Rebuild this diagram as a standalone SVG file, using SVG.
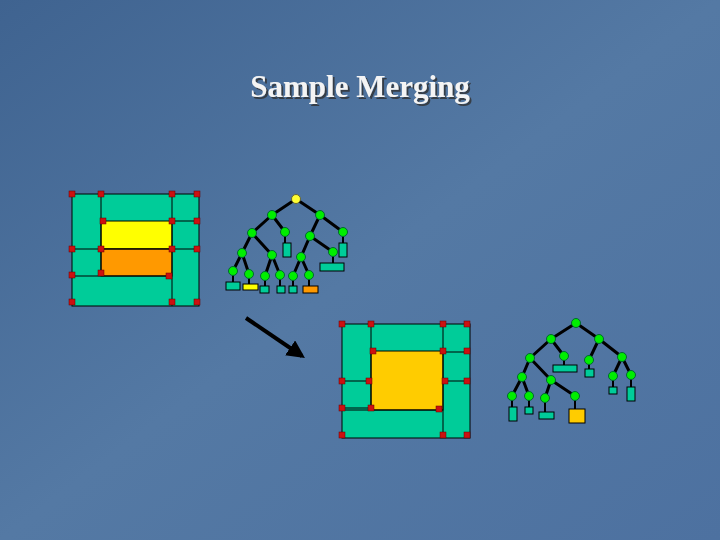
<svg xmlns="http://www.w3.org/2000/svg" width="720" height="540" viewBox="0 0 720 540">
<defs>
<linearGradient id="bg" x1="0" y1="0" x2="1" y2="1">
<stop offset="0" stop-color="#3f6390"/><stop offset="0.5" stop-color="#5479a4"/><stop offset="1" stop-color="#4d71a0"/>
</linearGradient>
<filter id="sh" x="-10%" y="-30%" width="120%" height="160%"><feDropShadow dx="2" dy="2" stdDeviation="0.5" flood-color="#333" flood-opacity="0.8"/></filter>
<marker id="ah" viewBox="0 0 10 10" refX="8" refY="5" markerWidth="4.5" markerHeight="4.5" orient="auto"><path d="M0,0 L10,5 L0,10 z" fill="#000"/></marker>
</defs>
<style>
.c{fill:#00cc99;stroke:#000;stroke-width:1}
.r{fill:#cc1111;stroke:#600;stroke-width:0.5}
.n{fill:#00ee00;stroke:#063;stroke-width:1}
.e{stroke:#000;stroke-width:3;fill:none}
.l{fill:#00cc99;stroke:#000;stroke-width:1}
.t{font-family:"Liberation Serif",serif;font-weight:bold;font-size:31px}
</style>
<rect width="720" height="540" fill="url(#bg)"/>
<text class="t" x="360" y="97" text-anchor="middle" fill="#f4f4f4" filter="url(#sh)">Sample Merging</text>
<g id="box1">
<rect class="c" x="72" y="194" width="127" height="112"/>
<rect x="101" y="221" width="71" height="28" fill="#ffff00" stroke="#000"/>
<rect x="101" y="249" width="71" height="27" fill="#ff9900" stroke="#000"/>
<path d="M101,194V276M172,194V306M72,249H199M72,276H172M172,221H199" stroke="#000" fill="none"/>
<g class="r">
<rect x="69" y="191" width="6" height="6"/><rect x="98" y="191" width="6" height="6"/><rect x="169" y="191" width="6" height="6"/><rect x="194" y="191" width="6" height="6"/>
<rect x="100" y="218" width="6" height="6"/><rect x="169" y="218" width="6" height="6"/><rect x="194" y="218" width="6" height="6"/>
<rect x="69" y="246" width="6" height="6"/><rect x="98" y="246" width="6" height="6"/><rect x="169" y="246" width="6" height="6"/><rect x="194" y="246" width="6" height="6"/>
<rect x="69" y="272" width="6" height="6"/><rect x="98" y="270" width="6" height="6"/><rect x="166" y="273" width="6" height="6"/>
<rect x="69" y="299" width="6" height="6"/><rect x="169" y="299" width="6" height="6"/><rect x="194" y="299" width="6" height="6"/>
</g>
</g>
<g id="connectors">
<path class="e" d="M296,199L272,215M296,199L320,215M272,215L252,233M272,215L285,232M320,215L310,236M320,215L343,232M252,233L242,253M252,233L272,255M310,236L301,257M310,236L333,252M242,253L233,271M242,253L249,274M272,255L265,276M272,255L280,275M301,257L293,276M301,257L309,275"/>
<path d="M285,232V244M343,232V244M333,252V264M233,271V283M249,274V285M265,276V287M280,275V287M293,276V287M309,275V287" stroke="#000" stroke-width="2"/>
<path class="e" d="M576,323L551,339M576,323L599,339M551,339L530,358M551,339L564,356M599,339L589,360M599,339L622,357M530,358L522,377M530,358L551,380M622,357L613,376M622,357L631,375M522,377L512,396M522,377L529,396M551,380L545,398M551,380L575,396"/>
<path d="M564,356V366M589,360V370M613,376V388M631,375V388M512,396V408M529,396V408M545,398V413M575,396V410" stroke="#000" stroke-width="2"/>
<line x1="246" y1="318" x2="302" y2="356" stroke="#000" stroke-width="4" marker-end="url(#ah)"/>
</g>
<g id="tree1">
<rect class="l" x="283" y="243" width="8" height="14"/><rect class="l" x="339" y="243" width="8" height="14"/><rect class="l" x="320" y="263" width="24" height="8"/>
<rect class="l" x="226" y="282" width="14" height="8"/><rect x="243" y="284" width="15" height="6" fill="#ffff00" stroke="#000"/>
<rect class="l" x="260" y="286" width="9" height="7"/><rect class="l" x="277" y="286" width="8" height="7"/><rect class="l" x="289" y="286" width="8" height="7"/>
<rect x="303" y="286" width="15" height="7" fill="#ff9900" stroke="#000"/>
<circle cx="296" cy="199" r="4.5" fill="#ffff33" stroke="#663"/>
<g class="n">
<circle cx="272" cy="215" r="4.5"/><circle cx="320" cy="215" r="4.5"/><circle cx="252" cy="233" r="4.5"/><circle cx="285" cy="232" r="4.5"/><circle cx="310" cy="236" r="4.5"/><circle cx="343" cy="232" r="4.5"/>
<circle cx="242" cy="253" r="4.5"/><circle cx="272" cy="255" r="4.5"/><circle cx="301" cy="257" r="4.5"/><circle cx="333" cy="252" r="4.5"/>
<circle cx="233" cy="271" r="4.5"/><circle cx="249" cy="274" r="4.5"/><circle cx="265" cy="276" r="4.5"/><circle cx="280" cy="275" r="4.5"/><circle cx="293" cy="276" r="4.5"/><circle cx="309" cy="275" r="4.5"/>
</g>
</g>
<g id="box2">
<rect class="c" x="342" y="324" width="128" height="114"/>
<rect x="371" y="351" width="72" height="59" fill="#ffcc00" stroke="#000"/>
<path d="M371,324V410M443,324V438M443,352H470M342,381H371M443,381H470M342,408H371M342,410H443" stroke="#000" fill="none"/>
<g class="r">
<rect x="339" y="321" width="6" height="6"/><rect x="368" y="321" width="6" height="6"/><rect x="440" y="321" width="6" height="6"/><rect x="464" y="321" width="6" height="6"/>
<rect x="370" y="348" width="6" height="6"/><rect x="440" y="348" width="6" height="6"/><rect x="464" y="348" width="6" height="6"/>
<rect x="339" y="378" width="6" height="6"/><rect x="366" y="378" width="6" height="6"/><rect x="442" y="378" width="6" height="6"/><rect x="464" y="378" width="6" height="6"/>
<rect x="339" y="405" width="6" height="6"/><rect x="368" y="405" width="6" height="6"/><rect x="436" y="406" width="6" height="6"/>
<rect x="339" y="432" width="6" height="6"/><rect x="440" y="432" width="6" height="6"/><rect x="464" y="432" width="6" height="6"/>
</g>
</g>
<g id="tree2">
<rect class="l" x="553" y="365" width="24" height="7"/><rect class="l" x="585" y="369" width="9" height="8"/>
<rect class="l" x="609" y="387" width="8" height="7"/><rect class="l" x="627" y="387" width="8" height="14"/>
<rect class="l" x="509" y="407" width="8" height="14"/><rect class="l" x="525" y="407" width="8" height="7"/><rect class="l" x="539" y="412" width="15" height="7"/>
<rect x="569" y="409" width="16" height="14" fill="#ffcc00" stroke="#000"/>
<g class="n">
<circle cx="576" cy="323" r="4.5"/><circle cx="551" cy="339" r="4.5"/><circle cx="599" cy="339" r="4.5"/><circle cx="530" cy="358" r="4.5"/><circle cx="564" cy="356" r="4.5"/><circle cx="589" cy="360" r="4.5"/><circle cx="622" cy="357" r="4.5"/>
<circle cx="522" cy="377" r="4.5"/><circle cx="551" cy="380" r="4.5"/><circle cx="613" cy="376" r="4.5"/><circle cx="631" cy="375" r="4.5"/>
<circle cx="512" cy="396" r="4.5"/><circle cx="529" cy="396" r="4.5"/><circle cx="545" cy="398" r="4.5"/><circle cx="575" cy="396" r="4.5"/>
</g>
</g>
</svg>
